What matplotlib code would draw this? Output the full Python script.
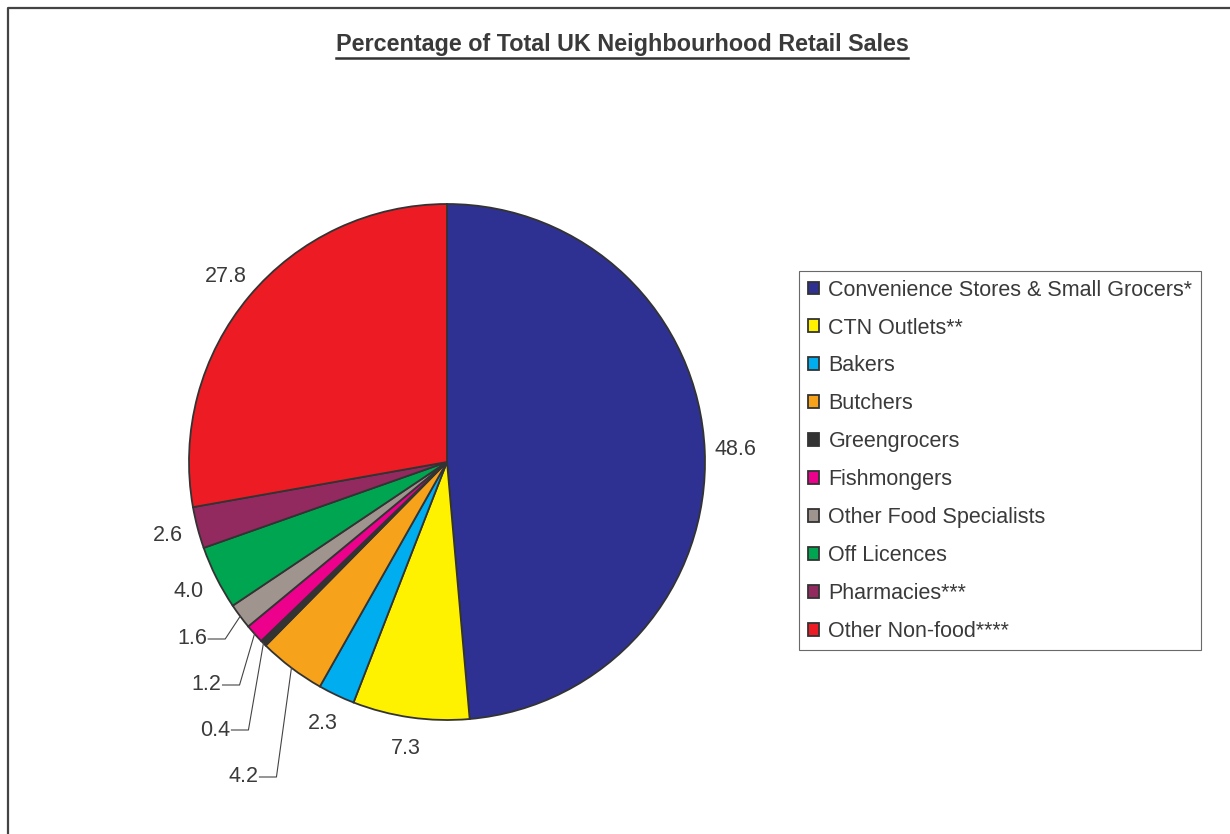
import numpy as np
import matplotlib.pyplot as plt
from matplotlib.lines import Line2D

plt.rcParams['font.family'] = ['Liberation Sans', 'DejaVu Sans']

categories = ["Convenience Stores & Small Grocers*", "CTN Outlets**", "Bakers",
              "Butchers", "Greengrocers", "Fishmongers", "Other Food Specialists",
              "Off Licences", "Pharmacies***", "Other Non-food****"]
shares = [48.6, 7.3, 2.3, 4.2, 0.4, 1.2, 1.6, 4.0, 2.6, 27.8]
colors = ["#2E3192", "#FFF200", "#00AEEF", "#F7A21B", "#333333",
          "#EC008C", "#A0948F", "#00A551", "#92295F", "#ED1C24"]

W, H = 1230, 834
TXT = "#3a3a3a"
FS = 15.5

fig = plt.figure(figsize=(W / 100, H / 100), dpi=100)
ax = fig.add_axes([0, 0, 1, 1])

cx, cy, R = 447, H - 462, 258
wedges, _ = ax.pie(shares, colors=colors, startangle=90, counterclock=False,
                   center=(cx, cy), radius=R,
                   wedgeprops=dict(edgecolor="#333333", linewidth=1.3))
ax.set_xlim(0, W)
ax.set_ylim(0, H)
ax.set_axis_off()

# labels: small slices get a leader line to a label at a given height
leader_y = {3: 777, 4: 730, 5: 685, 6: 639}
for i, w in enumerate(wedges):
    mid = np.deg2rad((w.theta1 + w.theta2) / 2)
    txt = f"{shares[i]:.1f}"
    if i in leader_y:
        ex, ey = cx + R * np.cos(mid), cy + R * np.sin(mid)
        ty = H - leader_y[i]
        elbow = ex - 15
        ax.plot([ex, elbow, elbow - 17], [ey, ty, ty], color="#444444", lw=0.8)
        ax.text(elbow - 18, ty, txt, ha="right", va="center", fontsize=FS, color=TXT)
    else:
        d = 1.12 * R
        ax.text(cx + d * np.cos(mid), cy + d * np.sin(mid), txt,
                ha="center", va="center", fontsize=FS, color=TXT)

leg = ax.legend(wedges, categories, loc="upper left",
                bbox_to_anchor=(799 / W, 1 - 271 / H), bbox_transform=fig.transFigure,
                borderaxespad=0, fontsize=FS, frameon=True, fancybox=False,
                handlelength=0.55, handleheight=0.55, handletextpad=0.42,
                labelspacing=0.785, borderpad=0.4)
leg.get_frame().set_edgecolor("#444444")
leg.get_frame().set_linewidth(0.8)
for t in leg.get_texts():
    t.set_color(TXT)

title = fig.text(622 / W, 1 - 44 / H, "Percentage of Total UK Neighbourhood Retail Sales",
                 ha="center", va="center", fontsize=16.8, fontweight="bold", color=TXT)
fig.canvas.draw()
bb = title.get_window_extent()
uy = bb.y0 - 2
fig.add_artist(Line2D([bb.x0 / W, bb.x1 / W], [uy / H, uy / H],
                      transform=fig.transFigure, color="#333333", lw=1.8))

# chart area border (top and left edges visible)
fig.add_artist(Line2D([8 / W, 8 / W, 1], [0, 1 - 8 / H, 1 - 8 / H],
                      transform=fig.transFigure, color="#444444", lw=1.6))

fig.savefig("out.png", dpi=100)
